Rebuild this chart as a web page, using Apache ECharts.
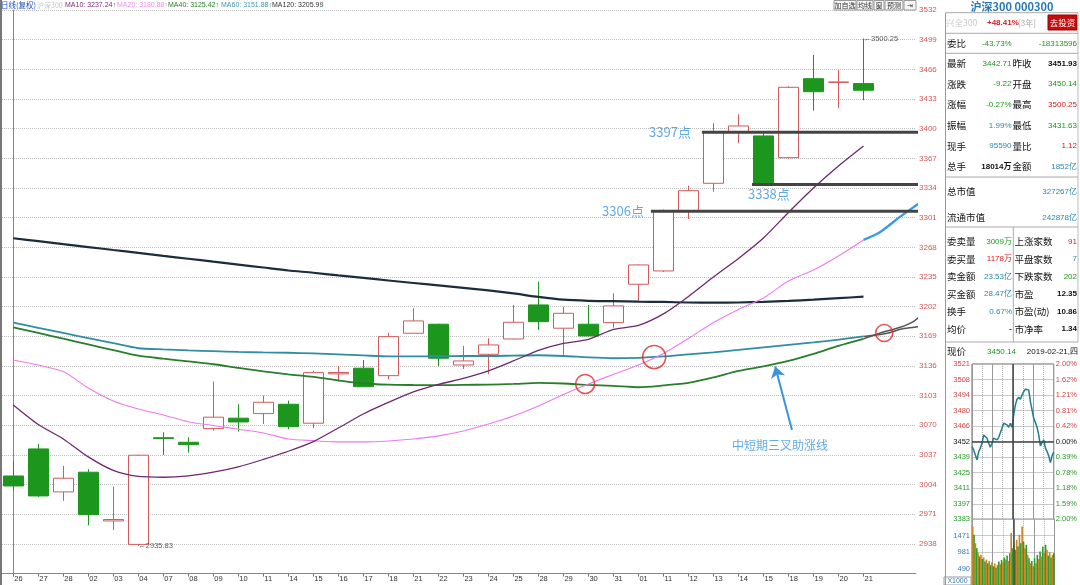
<!DOCTYPE html>
<html><head><meta charset="utf-8">
<script src="https://cdn.jsdelivr.net/npm/echarts@6/dist/echarts.min.js"></script>
<style>html,body{margin:0;padding:0;background:#fff}#c{width:1080px;height:585px}</style>
</head><body><div id="c"></div>
<script>
// ---------- data ----------
const dates = ['26','27','28','02','03','04','07','08','09','10','11','14','15','16','17','18','21','22','23','24','25','28','29','30','31','01','11','12','13','14','15','18','19','20','21'];
// [open, close, low, high]
const ohlc = [
 [3013.6,3002.5,2997.0,3030.3],[3043.7,2991.4,2990.3,3049.3],[2995.9,3011.1,2985.9,3024.8],[3017.8,2970.6,2958.8,3021.1],
 [2963.6,2965.2,2953.6,3001.8],[2937.5,3036.7,2935.83,3037.2],[3056.2,3055.2,3037.0,3062.3],[3051.1,3048.5,3039.6,3056.7],
 [3066.3,3079.0,3064.0,3118.6],[3077.9,3073.7,3063.0,3093.4],[3083.0,3095.6,3071.5,3103.0],[3093.4,3068.5,3065.6,3097.4],
 [3072.3,3128.6,3066.7,3130.5],[3127.2,3128.7,3118.6,3136.0],[3133.5,3113.0,3112.3,3142.7],[3125.2,3168.6,3121.2,3173.0],
 [3172.4,3186.1,3172.0,3200.2],[3182.4,3144.6,3136.0,3183.0],[3137.1,3141.6,3132.7,3158.3],[3149.0,3159.4,3127.1,3166.8],
 [3166.0,3184.6,3165.5,3203.9],[3203.9,3185.3,3176.1,3229.8],[3178.0,3194.6,3148.3,3202.0],[3182.4,3169.4,3169.0,3203.9],
 [3184.2,3202.8,3178.6,3216.9],[3226.9,3248.4,3208.3,3249.0],[3241.7,3308.8,3240.5,3310.0],[3308.8,3331.0,3299.5,3336.6],
 [3339.2,3396.6,3329.9,3406.0],[3396.6,3403.0,3383.7,3416.0],[3391.9,3339.2,3338.0,3394.8],[3367.7,3446.0,3366.0,3447.0],
 [3455.6,3441.1,3420.0,3482.0],[3451.5,3451.93,3422.7,3465.3],[3450.14,3442.71,3431.63,3500.25]
];
const ma10 = [3092.6,3070.9,3054.8,3034.8,3019.8,3013.1,3012.2,3013.7,3017.8,3023.7,3032,3041.1,3051.8,3067,3082.6,3095.4,3107.1,3115.4,3122.1,3130.5,3141.6,3153.3,3161,3165.5,3176.6,3181.1,3193.9,3213.3,3235,3255.6,3278.4,3306.8,3334,3358.5,3380.8];
const ma20 = [3142.7,3137.1,3129.7,3111.5,3097.1,3088.2,3081.5,3074,3069.8,3065.6,3061.5,3054.8,3052.9,3051.5,3051.5,3052.6,3054.8,3058.2,3063.7,3071.5,3080.4,3091.5,3104.3,3116,3126.6,3137.1,3149.9,3166.6,3184.4,3198.9,3211.7,3230.6,3242.8,3258.4,3276.2];
const ma40 = [3179,3172.7,3166.3,3159.9,3153.6,3147.4,3144.1,3141,3137.9,3133.8,3129.9,3126.6,3123.8,3119.9,3116.5,3115.2,3114.8,3114.6,3114.9,3115.3,3116,3117.1,3116.5,3114.9,3113.8,3112.3,3114.3,3117.1,3123.2,3130.5,3135.5,3141.6,3149.4,3158.3,3166.1];
const ma60 = [3184.2,3178.4,3172.7,3166.9,3161.3,3155.7,3154.4,3153.3,3152.5,3151.6,3151,3150.7,3149.9,3148.8,3147.7,3146.6,3146.6,3146.9,3147.1,3147.1,3147.5,3147.9,3147.1,3145.5,3144.6,3145.1,3146.6,3149,3151.2,3153.8,3156.6,3159.4,3162.2,3165.3,3168.8];
const ma120 = [3278.1,3274.8,3271.5,3268.3,3265,3261.8,3258.5,3255.3,3252,3248.8,3245.5,3242.2,3239.7,3236.7,3233.9,3231.1,3228.3,3225.6,3222.8,3220,3216.7,3212.8,3209.7,3208.5,3208.1,3207.5,3207.2,3206.6,3206.4,3206.6,3207.4,3208.4,3209.7,3211.4,3213.1];
// projected extensions [index, value]
const ma40Ext = [[34,3166.1],[34.67,3172.7],[35.47,3179],[35.99,3185.3],[36.47,3196.4],[36.95,3207.5]];
const ma60Ext = [[34,3168.8],[34.95,3172.4],[35.47,3176.8],[36.15,3179.7],[36.87,3184.2]];
const ma20Ext = [[34,3276.2],[34.67,3285.1],[35.47,3302.1],[36.07,3314],[36.79,3328.1],[37.35,3339.6]];
// annotated support levels
const levelValues = [3396, 3338, 3308];
const levelStart = [27.54, 29.54, 25.5];
const levelEnd = [37.79, 37.47, 37.35];
const levelText = ['3397点','3338点','3306点'];
const crossPoints = [[22.87,3116],[25.63,3146],[34.83,3172.7]];
const arrowFrom = [31.14, 3064.8];
const arrowTo = [30.47, 3135.3];
const extremes = [[5, 2935.83],[34, 3500.25]];
// main price axis
const yMin = 2905, yMax = 3532, yStep = 33;
// intraday
const prevClose = 3451.93;
const intradayPrice = [3447.5,3444.6,3440.1,3435.7,3443.1,3446.1,3450.5,3457.9,3458.8,3455,3450.5,3447,3450.5,3455,3456.4,3453.5,3455.8,3457,3463.8,3468.3,3469.8,3466.8,3464.7,3468.3,3464.7,3475.7,3484.6,3489.6,3491.4,3489.6,3493.5,3496.4,3498.5,3499.4,3497.9,3487.5,3480.1,3472.7,3468.9,3464.7,3457.9,3448.1,3451.1,3453.5,3446.1,3443.1,3439.3,3433.3,3439.3,3442.7];
const intradayVolume = [1750,1500,1250,1100,950,850,900,780,820,700,760,650,720,600,680,560,640,520,600,700,620,750,680,820,760,880,720,950,1550,1100,1250,1050,1350,1150,1500,1250,1750,1300,1100,1200,900,800,650,720,560,800,650,900,780,1000,850,1150,950,1200,1050,880,980,820,900,950];
const intradayLeftLabels = ['3383','3397','3411','3425','3439','3452','3466','3480','3494','3508','3521'];
const intradayRightLabels = ['2.00%','1.59%','1.18%','0.78%','0.39%','0.00%','0.42%','0.81%','1.21%','1.62%','2.00%'];
const iMin = 3382.89, iStep = 13.808, iMax = 3520.97;
const volMax = 1962, volStep = 490.5;

// ---------- styles ----------
const CJK = '"Noto Sans CJK SC", sans-serif';
const NUM = '"Liberation Sans", "Noto Sans CJK SC", sans-serif';
const UPC = '#d25a5a', DNC = '#1d961d';
const G = '#1e961e', R = '#d42020', B = '#2a88a6', K = '#111';
const LVL = '#444', ANN = '#3a93de';
const circleSizes = [19, 23, 17];

function T(x, y, text, fill, size, align, family, weight) {
  return {type:'text', x:x, y:y, silent:true, z:100,
    style:{text:text, fill:fill, fontSize:size, fontFamily:family||CJK, align:align||'left', verticalAlign:'middle', fontWeight:weight||'normal'}};
}
function L(x1,y1,x2,y2,stroke,w){ return {type:'line', silent:true, z:100, shape:{x1:x1,y1:y1,x2:x2,y2:y2}, style:{stroke:stroke, lineWidth:w||1}}; }
function RC(x,y,w,h,fill,stroke){ return {type:'rect', silent:true, z:99, shape:{x:x,y:y,width:w,height:h}, style:{fill:fill, stroke:stroke, lineWidth:1}}; }

const graphics = [];
graphics.push(L(1,0,1,585,'#777',2));
graphics.push(T(1,5,'日线(复权)','#2050c0',7.5,'left',CJK));
graphics.push(T(37,5,'沪深300','#c4c4c4',7,'left',CJK));
graphics.push(T(65,5,'MA10: 3237.24↑','#7a2a7a',7,'left',NUM));
graphics.push(T(117,5,'MA20: 3180.88↑','#f08cf0',7,'left',NUM));
graphics.push(T(168,5,'MA40: 3125.42↑','#2a802a',7,'left',NUM));
graphics.push(T(221,5,'MA60: 3151.88↑','#3a98b0',7,'left',NUM));
graphics.push(T(272,5,'MA120: 3205.99','#333',7,'left',NUM));
graphics.push(T(321,5,'↓','#7ab8e0',7,'left',NUM));
[[834,22,'加自选'],[857,16,'均线'],[874,10,'窗'],[885,18,'预测'],[904,12,'⇥']].forEach(b=>{
  graphics.push(RC(b[0],0.5,b[1],9.5,'#f6f6f6','#999'));
  graphics.push(T(b[0]+b[1]/2,5.3,b[2],'#333',7,'center',CJK));
});
graphics.push(L(945.5,12.7,945.5,585,'#999',1));
graphics.push(L(1078,12.7,1078,342,'#bbb',1));
[12.7,33.3,53.3,177,227,342].forEach(y=>graphics.push(L(945.5,y,1078,y,'#aaa',1)));
graphics.push(L(1013.3,227,1013.3,342,'#aaa',1));
graphics.push(T(1012,7,'沪深300 000300','#2878b8',11,'center',CJK,'bold'));
graphics.push(T(946,22.5,'兴全300','#c8c8c8',8.5,'left',CJK));
graphics.push(T(987,22.5,'+48.41%',R,8,'left',NUM,'bold'));
graphics.push(T(1018,22.5,'[3年]','#aaa',8,'left',CJK));
graphics.push(RC(1048,15,29,15,'#c40c0c','#900'));
graphics.push(T(1062.5,22.5,'去投资','#fff',8.5,'center',CJK));
graphics.push(T(947,43.3,'委比',K,9.5));
graphics.push(T(1011.7,43.3,'-43.73%',G,8,'right',NUM));
graphics.push(T(1077,43.3,'-18313596',G,8,'right',NUM));
const upperRows = [
 [63.3,'最新','3442.71',G,'昨收','3451.93',K],
 [84,'涨跌','-9.22',G,'开盘','3450.14',G],
 [104.7,'涨幅','-0.27%',G,'最高','3500.25',R],
 [125.4,'振幅','1.99%',B,'最低','3431.63',G],
 [146,'现手','95590',B,'量比','1.12',R],
 [166.7,'总手','18014万',K,'金额','1852亿',B]
];
upperRows.forEach(r=>{
  graphics.push(T(947,r[0],r[1],K,9.5));
  graphics.push(T(1011.5,r[0],r[2],r[3],8,'right',NUM,r[3]===K?'bold':'normal'));
  graphics.push(T(1012.5,r[0],r[4],K,9.5));
  graphics.push(T(1077,r[0],r[5],r[6],8,'right',NUM,r[6]===K?'bold':'normal'));
});
graphics.push(T(947,191.7,'总市值',K,9.5));
graphics.push(T(1077,191.7,'327267亿',B,8,'right',NUM));
graphics.push(T(947,217.7,'流通市值',K,9.5));
graphics.push(T(1077,217.7,'242878亿',B,8,'right',NUM));
const lowerRows = [
 [241.5,'委卖量','3009万',G,'上涨家数','91',R],
 [259,'委买量','1178万',R,'平盘家数','7',B],
 [276.5,'卖金额','23.53亿',B,'下跌家数','202',G],
 [294,'买金额','28.47亿',B,'市盈','12.35',K],
 [311.5,'换手','0.67%',B,'市盈(动)','10.86',K],
 [329,'均价','-',K,'市净率','1.34',K]
];
lowerRows.forEach(r=>{
  graphics.push(T(947,r[0],r[1],K,9.5));
  graphics.push(T(1012,r[0],r[2],r[3],8,'right',NUM,r[3]===K?'bold':'normal'));
  graphics.push(T(1014.5,r[0],r[4],K,9.5));
  graphics.push(T(1077,r[0],r[5],r[6],8,'right',NUM,r[6]===K?'bold':'normal'));
});
graphics.push(T(947,351.5,'现价',K,9.5));
graphics.push(T(987,351.5,'3450.14',G,8,'left',NUM));
graphics.push(T(1078,351.5,'2019-02-21,四',K,8,'right',NUM));
graphics.push(RC(944,577,27,8,'#fff','#999'));
graphics.push(T(957.5,581.2,'X1000','#3a78b0',7,'center',NUM));

// ---------- series ----------
const idx = a => a.map((v,i)=>[i,v]);
const lineS = (name, data, color, width, extra) => Object.assign({
  name:name, type:'line', xAxisIndex:0, yAxisIndex:0, data:data, symbol:'none', silent:true,
  smooth:0.25, lineStyle:{color:color, width:width}, z:3
}, extra||{});

const series = [
  {type:'candlestick', xAxisIndex:0, yAxisIndex:0, barWidth:20, silent:true, z:2,
   dimensions:['idx','open','close','lowest','highest'],
   encode:{x:'idx', y:['open','close','lowest','highest']},
   data: ohlc.map((d,i)=>[i,d[0],d[1],d[2],d[3]]),
   itemStyle:{color:'#ffffff', color0:DNC, borderColor:UPC, borderColor0:DNC, borderWidth:1}},
  lineS('MA120', idx(ma120), '#1c2c3c', 2.2),
  lineS('MA60', idx(ma60), '#2f8ea2', 1.8),
  lineS('MA40', idx(ma40), '#2a7d2a', 1.8),
  lineS('MA20', idx(ma20), '#ee7aee', 1.1),
  lineS('MA10', idx(ma10), '#6e2870', 1.3),
  lineS('MA40p', ma40Ext, '#555', 1.5, {clip:false}),
  lineS('MA60p', ma60Ext, '#555', 1.5, {clip:false}),
  lineS('MA20p', ma20Ext, '#3a9be8', 2.4, {clip:false})
];
levelValues.forEach((v,k)=>{
  series.push({type:'line', xAxisIndex:0, yAxisIndex:0, data:[[levelStart[k],v],[levelEnd[k],v]],
    symbol:'none', silent:true, clip:false, lineStyle:{color:LVL, width:3}, z:6});
});
const levelLabelPos = [{position:'left', distance:11},{position:[-4,3]},{position:'left', distance:7}];
series.push({type:'scatter', xAxisIndex:0, yAxisIndex:0, symbolSize:0, silent:true, z:7, clip:false,
  data: levelValues.map((v,k)=>({value:[levelStart[k],v],
    label:Object.assign({show:true, formatter:levelText[k], color:ANN, fontSize:13, fontFamily:CJK}, levelLabelPos[k])}))});
series.push({type:'scatter', xAxisIndex:0, yAxisIndex:0, symbol:'circle', silent:true, z:8, clip:false,
  symbolSize:(v,p)=>circleSizes[p.dataIndex],
  itemStyle:{color:'rgba(0,0,0,0)', borderColor:'#e02828', borderWidth:1.6},
  data: crossPoints,
  markLine:{silent:true, symbol:['none','arrow'], symbolSize:11, animation:false,
    label:{show:false}, lineStyle:{color:ANN, width:2, type:'solid'},
    data:[[{coord:arrowFrom},{coord:arrowTo}]]}});
series.push({type:'scatter', xAxisIndex:0, yAxisIndex:0, symbolSize:0, silent:true, z:7, clip:false,
  data:[{value:arrowFrom, label:{show:true, formatter:'中短期三叉助涨线', position:[-60,9], color:ANN, fontSize:12, fontFamily:CJK}}]});
series.push({type:'scatter', xAxisIndex:0, yAxisIndex:0, symbolSize:0, silent:true, z:7, clip:false,
  data: extremes.map(e=>({value:e, label:{show:true, position:'right', distance:0, formatter:'←'+e[1].toFixed(2), color:'#333', fontSize:7.5, fontFamily:NUM}}))});
series.push({type:'line', xAxisIndex:2, yAxisIndex:2, symbol:'none', silent:true, z:4,
  data: intradayPrice.map((p,k)=>[k*240/(intradayPrice.length-1), p]),
  lineStyle:{color:'#1f7f8f', width:1.5},
  markLine:{silent:true, symbol:'none', animation:false, label:{show:false},
    lineStyle:{color:'#444', width:1.5, type:'solid'}, data:[{yAxis:prevClose},{xAxis:120}]}});
series.push({type:'bar', xAxisIndex:4, yAxisIndex:4, silent:true, barWidth:1.6, z:3,
  data: intradayVolume.map((v,k)=>[(k+0.5)*240/intradayVolume.length, v]),
  itemStyle:{color:p=>p.dataIndex%2 ? '#2f9a2a' : '#c8841e'},
  markLine:{silent:true, symbol:'none', animation:false, label:{show:false},
    lineStyle:{color:'#444', width:1.5, type:'solid'}, data:[{xAxis:120}]}});

const iIdx = v => Math.round((parseFloat(v)-iMin)/iStep);
const iColor = v => { const d = parseFloat(v)-prevClose; return Math.abs(d)<1 ? '#111' : (d>0 ? '#d04848' : '#2a9a2a'); };

const option = {
  animation:false,
  backgroundColor:'#fff',
  grid:[
    {left:2, top:10, width:914, height:563.6},
    {left:13.25, top:10, width:850.24, height:563.6},
    {left:972, top:364, width:82.5, height:155.3, show:true, borderColor:'#666', borderWidth:1},
    {left:972, top:519.3, width:82.5, height:65.7, show:true, borderColor:'#666', borderWidth:1}
  ],
  xAxis:[
    {type:'value', gridIndex:0, min:-0.45, max:36.1, axisLine:{show:true, onZero:false, lineStyle:{color:'#888'}},
     axisTick:{show:false}, axisLabel:{show:false}, splitLine:{show:false}},
    {type:'category', gridIndex:1, data:dates, boundaryGap:false, axisLine:{show:false},
     axisTick:{show:true, length:3, lineStyle:{color:'#777'}},
     axisLabel:{interval:0, fontSize:7.5, color:'#333', align:'left', margin:2, fontFamily:NUM, padding:[0,0,0,1]},
     splitLine:{show:false}},
    {type:'value', gridIndex:2, min:0, max:240, interval:30, axisLine:{show:false}, axisTick:{show:false},
     axisLabel:{show:false}, splitLine:{show:true, lineStyle:{color:'#aaa', type:'dotted'}}},
    {type:'value', gridIndex:2, position:'top', min:0, max:240, interval:60, axisLine:{show:false}, axisTick:{show:false},
     axisLabel:{show:false}, splitLine:{show:true, lineStyle:{color:'#999'}}},
    {type:'value', gridIndex:3, min:0, max:240, interval:30, axisLine:{show:false}, axisTick:{show:false},
     axisLabel:{show:false}, splitLine:{show:true, lineStyle:{color:'#aaa', type:'dotted'}}},
    {type:'value', gridIndex:3, position:'top', min:0, max:240, interval:60, axisLine:{show:false}, axisTick:{show:false},
     axisLabel:{show:false}, splitLine:{show:true, lineStyle:{color:'#999'}}}
  ],
  yAxis:[
    {type:'value', gridIndex:0, position:'right', min:yMin, max:yMax, interval:yStep,
     axisLine:{show:true, lineStyle:{color:'#888'}}, axisTick:{show:false},
     axisLabel:{color:'#d05a5a', fontSize:8, margin:3, fontFamily:NUM, showMinLabel:false, formatter:v=>String(Math.round(v))},
     splitLine:{show:true, lineStyle:{color:'#bdbdbd', type:'dotted'}}},
    {type:'value', gridIndex:1, show:false, min:yMin, max:yMax},
    {type:'value', gridIndex:2, min:iMin, max:iMax, interval:iStep, axisLine:{show:false}, axisTick:{show:false},
     axisLabel:{fontSize:7.5, margin:2, fontFamily:NUM, formatter:v=>intradayLeftLabels[iIdx(v)]||'', color:v=>iColor(v)},
     splitLine:{show:true, lineStyle:{color:'#bbb', width:0.8}}},
    {type:'value', gridIndex:2, position:'right', min:iMin, max:iMax, interval:iStep, axisLine:{show:false}, axisTick:{show:false},
     axisLabel:{fontSize:7.5, margin:2, fontFamily:NUM, formatter:v=>intradayRightLabels[iIdx(v)]||'', color:v=>iColor(v)},
     splitLine:{show:false}},
    {type:'value', gridIndex:3, min:0, max:volMax, interval:volStep, axisLine:{show:false}, axisTick:{show:false},
     axisLabel:{fontSize:7.5, margin:2, fontFamily:NUM, color:'#3a78b0', showMinLabel:false, showMaxLabel:false, formatter:v=>String(Math.floor(v))},
     splitLine:{show:true, lineStyle:{color:'#bbb', width:0.8}}}
  ],
  series:series,
  graphic:graphics
};
const chart = echarts.init(document.getElementById('c'), null, {renderer:'canvas'});
chart.setOption(option);
</script>
</body></html>
